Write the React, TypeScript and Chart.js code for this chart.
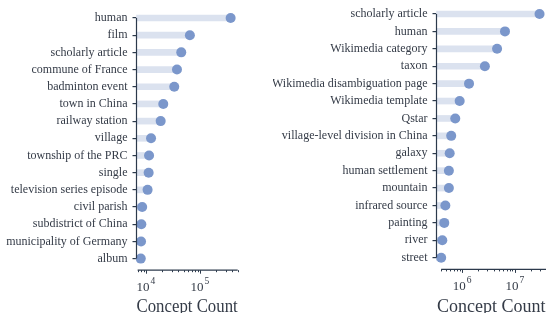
import React, { useEffect, useRef } from 'react';
import { Chart, registerables } from 'chart.js';

Chart.register(...registerables);

const leftCategories = [
  'human', 'film', 'scholarly article', 'commune of France', 'badminton event',
  'town in China', 'railway station', 'village', 'township of the PRC', 'single',
  'television series episode', 'civil parish', 'subdistrict of China',
  'municipality of Germany', 'album',
];
const leftCounts = [
  370000, 65000, 45000, 37500, 33400, 20900, 18700, 12400, 11400, 11200,
  10700, 8500, 8200, 8100, 8000,
];

const rightCategories = [
  'scholarly article', 'human', 'Wikimedia category', 'taxon',
  'Wikimedia disambiguation page', 'Wikimedia template', 'Qstar',
  'village-level division in China', 'galaxy', 'human settlement', 'mountain',
  'infrared source', 'painting', 'river', 'street',
];
const rightCounts = [
  29400000, 6500000, 4600000, 2700000, 1350000, 897000, 740000, 620000,
  580000, 560000, 560000, 480000, 458000, 420000, 400000,
];

const leftRange = [6670, 500000];
const rightRange = [326000, 39000000];

const FONT = "'Liberation Serif', 'Times New Roman', serif";
const TEXT = '#343b47';
const AXIS = '#2c3a4c';
const DOT = '#7b97cb';
const BAR = '#dbe2ef';

const spinePlugin = {
  id: 'spines',
  afterDraw(chart: any) {
    const { ctx, chartArea, scales } = chart;
    const xs = scales.x;
    const ys = scales.y;
    const n = chart.data.labels.length;
    ctx.save();
    ctx.strokeStyle = AXIS;
    ctx.lineWidth = 1.2;
    // y spine trimmed to first/last category
    ctx.beginPath();
    ctx.moveTo(chartArea.left, ys.getPixelForValue(0));
    ctx.lineTo(chartArea.left, ys.getPixelForValue(n - 1));
    ctx.stroke();
    // x spine with log ticks
    const ay = chartArea.bottom + 3;
    const ticks: { v: number; e: number; major: boolean }[] = [];
    const e0 = Math.floor(Math.log10(xs.min));
    const e1 = Math.ceil(Math.log10(xs.max));
    for (let e = e0; e <= e1; e++) {
      for (let m = 1; m <= 9; m++) {
        const v = m * Math.pow(10, e);
        if (v >= xs.min * 0.9999 && v <= xs.max * 1.0001) ticks.push({ v, e, major: m === 1 });
      }
    }
    if (ticks.length) {
      const first = xs.getPixelForValue(ticks[0].v);
      ctx.beginPath();
      ctx.moveTo(first, ay);
      ctx.lineTo(chartArea.right, ay);
      ctx.stroke();
      ctx.lineWidth = 1;
      for (const t of ticks) {
        const px = Math.round(xs.getPixelForValue(t.v)) + 0.5;
        ctx.beginPath();
        ctx.moveTo(px, ay);
        ctx.lineTo(px, ay + (t.major ? 3.5 : 2));
        ctx.stroke();
      }
      // major tick labels: 10 with raised exponent
      ctx.fillStyle = TEXT;
      ctx.textBaseline = 'alphabetic';
      ctx.textAlign = 'left';
      for (const t of ticks) {
        if (!t.major) continue;
        const px = xs.getPixelForValue(t.v);
        const base = '10';
        const exp = String(t.e);
        ctx.font = `13px ${FONT}`;
        const wb = ctx.measureText(base).width;
        ctx.font = `9.5px ${FONT}`;
        const we = ctx.measureText(exp).width;
        const gap = 1;
        const x0 = px - (wb + gap + we) / 2;
        ctx.font = `13px ${FONT}`;
        ctx.fillText(base, x0, ay + 21);
        ctx.font = `9.5px ${FONT}`;
        ctx.fillText(exp, x0 + wb + gap, ay + 13.5);
      }
    }
    ctx.restore();
  },
};

type PanelProps = {
  labels: string[];
  values: number[];
  range: number[];
  yWidth: number;
  padTop: number;
  padRight: number;
  xHeight: number;
};

function Panel({ labels, values, range, yWidth, padTop, padRight, xHeight }: PanelProps) {
  const ref = useRef<HTMLCanvasElement>(null);
  useEffect(() => {
    const chart = new Chart(ref.current as HTMLCanvasElement, {
      type: 'bar',
      data: {
        labels,
        datasets: [
          {
            type: 'line',
            indexAxis: 'y',
            data: values,
            showLine: false,
            pointRadius: 5,
            pointHoverRadius: 5,
            pointBackgroundColor: DOT,
            pointBorderWidth: 0,
            borderColor: DOT,
            clip: false,
            order: 0,
          } as any,
          {
            type: 'bar',
            indexAxis: 'y',
            data: values,
            backgroundColor: BAR,
            barThickness: 6,
            clip: false,
            order: 1,
          } as any,
        ],
      },
      options: {
        indexAxis: 'y',
        animation: false,
        responsive: false,
        maintainAspectRatio: false,
        layout: { autoPadding: false, padding: { top: padTop, right: padRight, left: 0, bottom: 0 } },
        plugins: { legend: { display: false }, tooltip: { enabled: false } },
        scales: {
          x: {
            type: 'logarithmic',
            position: 'bottom',
            min: range[0],
            max: range[1],
            border: { display: false },
            grid: { display: false, drawTicks: false },
            ticks: { display: false },
            title: {
              display: true,
              text: 'Concept Count',
              color: TEXT,
              font: { family: FONT, size: 18 },
              padding: { top: 0, bottom: -5 },
            },
            afterFit: (s: any) => {
              s.height = xHeight;
              s.paddingLeft = 0;
              s.paddingRight = 0;
            },
          } as any,
          y: {
            type: 'category',
            offset: true,
            border: { display: false },
            grid: {
              display: true,
              drawOnChartArea: false,
              offset: false,
              tickLength: 4,
              color: AXIS,
              lineWidth: 1.2,
            },
            ticks: {
              autoSkip: false,
              padding: 5,
              color: TEXT,
              font: { family: FONT, size: 12 },
            },
            afterFit: (s: any) => {
              s.width = yWidth;
              s.paddingTop = 0;
              s.paddingBottom = 0;
            },
          } as any,
        },
      },
      plugins: [spinePlugin],
    });
    return () => chart.destroy();
  }, []);
  return <canvas ref={ref} width={273} height={313} style={{ display: 'block', width: 273, height: 313 }} />;
}

export default function App() {
  useEffect(() => {
    document.body.style.margin = '0';
  }, []);
  return (
    <div style={{ display: 'flex', width: 546, height: 313, background: '#fff' }}>
      <Panel
        labels={leftCategories}
        values={leftCounts}
        range={leftRange}
        yWidth={136.5}
        padTop={9.4}
        padRight={35.3}
        xHeight={45.8}
      />
      <Panel
        labels={rightCategories}
        values={rightCounts}
        range={rightRange}
        yWidth={163.5}
        padTop={5.3}
        padRight={0}
        xHeight={46.6}
      />
    </div>
  );
}
